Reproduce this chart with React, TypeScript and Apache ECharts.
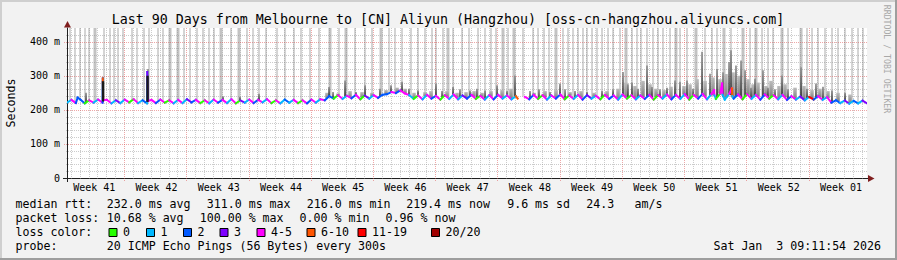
import React, { useEffect, useRef } from "react";
import * as echarts from "echarts";

// ---------------- data ----------------
const TITLE = "Last 90 Days from Melbourne to [CN] Aliyun (Hangzhou) [oss-cn-hangzhou.aliyuncs.com]";
const DAYS = 90;
const Y_MAX = 440;
const MEDIAN_STEP = 0.5; // days between median samples

const weekLabels = ["Week 41", "Week 42", "Week 43", "Week 44", "Week 45", "Week 46", "Week 47", "Week 48", "Week 49", "Week 50", "Week 51", "Week 52", "Week 01"];
const weekLabelDays = [3.07, 10.07, 17.07, 24.07, 31.07, 38.07, 45.07, 52.07, 59.07, 66.07, 73.07, 80.07, 87.07];
const weekStartDays = [6.43, 13.43, 20.43, 27.43, 34.43, 41.43, 48.43, 55.43, 62.43, 69.43, 76.43, 83.43];
const dayLineOffset = 0.43;
const yTickValues = [0, 100, 200, 300, 400];
const yMinorStep = 20;

// median rtt (ms), one sample every half day (trough, peak per day)
const medianMs: (number | null)[] = [
  221, 229, 220, 230, 219, 228, 221, 230, 221, 229, 219, 228, 220, 230, 222, 231, 220, 228, 219, 229,
  220, 230, 221, 228, 219, 229, 220, 231, 222, 229, 220, 228, 219, 230, 221, 229, 220, 231, 219, 228,
  221, 230, 220, 229, 222, 231, 220, 228, 219, 230, 221, 229, 220, 228, 219, 230, 221, 231, 228, 240,
  233, 243, 232, 241, 234, 244, 231, 242, 233, 243, 235, 244, 246, 252, 249, 257, 248, 243, 232, 242,
  231, 244, 233, 241, 230, 243, 232, 245, 231, 242, 233, 244, 232, 241, 230, 243, 231, 244, 233, 242,
  231, 240, null, 238, 231, 244, 232, 243, 230, 242, 233, 245, 231, 242, 232, 244, 230, 243, 233, 241,
  231, 244, 232, 242, 230, 245, 233, 243, 231, 242, 232, 244, 230, 243, 233, 245, 231, 244, 232, 246,
  230, 244, 233, 247, 231, 246, 232, 248, 230, 247, 233, 245, 231, 246, 232, 244, 230, 245, 233, 243,
  231, 244, 229, 240, 230, 239, 228, 238, 230, 240, 229, 237, 221, 228, 220, 227, 218, 226, 219, 227,
  219,
];
// loss colour class for each median sample (0..7)
const lossClassSeq =
  "14220414241314041214" +
  "24041413240414241403" +
  "14241404121404241422" +
  "04142403142224244104" +
  "14240414132404142414" +
  "15142404142404142314" +
  "04241404142404142414" +
  "04241404142404142404" +
  "14241316241422131213" +
  "1";
// extra median samples [day, ms, loss class]
const medianSpikes: [number, number, number][] = [
  [1.2, 236, 2], [4.02, 292, 5], [4.07, 229, 4], [9.03, 311, 3], [9.08, 226, 4],
  [50.7, 233, 5], [72.8, 258, 4], [72.85, 242, 1], [73.7, 277, 4], [73.75, 244, 1],
  [74.8, 263, 5], [74.85, 240, 1],
];

// dark smoke columns [day, top ms]
const smokeSpikes: [number, number][] = [
  [2.14, 250], [4.05, 296], [9.11, 320], [17.55, 240], [19.46, 238], [21.6, 247],
  [29.48, 267], [29.93, 252], [31.28, 286], [32.51, 252], [33.53, 272], [35.21, 262], [36.45, 272], [37.69, 282], [38.47, 262], [39.49, 257], [41.51, 277], [42.19, 255], [43.43, 267], [44.21, 260], [45.34, 257],
  [46.12, 262], [47.03, 257], [48.38, 272], [49.5, 255], [50.4, 301], [52.09, 255], [53.1, 260], [54.34, 252], [55.46, 277], [56.03, 260], [57.15, 255], [58.5, 252], [60.19, 255], [61.43, 260], [62.55, 311], [63.11, 275], [63.56, 280], [64.24, 262], [65.25, 330], [65.81, 267], [66.71, 260], [67.5, 265], [68.4, 286],
  [68.96, 282], [69.75, 286], [70.43, 262], [71.44, 370], [72.34, 306], [73.13, 320], [73.8, 310], [74.48, 340], [74.7, 375], [75.26, 330], [75.83, 345], [76.28, 316], [76.95, 265], [77.4, 291], [78.3, 316], [78.86, 265], [79.65, 260], [80.44, 301], [81.11, 260], [82.58, 325], [83.25, 262], [84.26, 277], [85.05, 268], [86.06, 257], [87.53, 250],
];
// near-black smoke cores over the two big early spikes [day, top ms]
const smokeCore: [number, number][] = [[4.05, 284], [9.06, 300]];
// mid-grey smoke columns [day, top ms]
const smokeMid: [number, number][] = [
  [29.25, 250], [30.49, 248], [31.84, 255], [33.19, 252], [34.31, 250], [35.89, 258], [37.13, 265], [38.03, 262], [39.04, 250], [40.28, 252], [40.95, 255], [42.75, 255], [43.88, 250], [44.89, 252], [45.79, 255],
  [46.69, 250], [47.7, 255], [48.94, 258], [49.95, 262], [52.54, 250], [53.78, 255], [55.01, 258], [56.59, 252], [57.83, 255], [59.29, 250], [60.75, 255], [61.99, 262], [62.89, 280], [63.9, 270], [64.8, 285], [65.59, 275], [66.26, 262], [67.16, 258], [67.95, 268], [69.41, 270],
  [70.09, 275], [70.88, 290], [71.78, 285], [72.68, 295], [73.46, 290], [74.14, 305], [74.93, 310], [75.6, 300], [76.61, 290], [77.18, 275], [77.74, 280], [78.64, 270], [79.2, 285], [80.1, 270], [80.78, 275], [81.9, 265], [82.91, 270], [83.81, 258], [84.71, 262], [85.61, 255], [86.74, 250], [88.09, 245],
];
// light smoke reaching the top of the graph (days)
const fullSmokeThin = [
  0.34, 0.9, 1.46, 2.03, 2.48, 4.16, 4.84, 5.29, 5.74, 6.3, 7.31, 7.88, 8.66, 9.23, 10.24, 10.8, 13.16, 13.84, 14.63, 15.3, 15.98, 16.54, 18.45, 20.25, 20.93, 21.6, 22.39,
  23.63, 24.53, 25.54, 26.33, 27.34, 28.35, 30.6, 32.4, 33.53, 34.31, 36.23, 36.9, 37.69, 38.7, 39.49, 40.28, 41.06, 41.51, 42.3, 43.43, 44.44, 45.23,
  46.24, 47.03, 47.7, 48.26, 49.61, 51.3, 52.43, 52.99, 53.66, 54.23, 55.8, 56.36, 56.93, 57.49, 58.05, 58.5, 59.06, 59.63, 60.19, 60.86, 61.43, 62.21, 63.56, 64.13, 64.58, 65.25, 65.93, 66.49, 67.05, 67.84,
  68.96, 69.75, 71.78, 72.56, 73.13, 74.7, 76.84, 78.19, 78.86, 79.43, 81.11, 83.25, 83.81, 84.49, 85.28, 86.06, 86.74, 87.53, 88.31, 88.99, 89.55,
];
const fullSmokeWide = [3.15, 11.59, 12.49, 17.33, 19.35, 29.59, 31.39, 35.33, 42.86, 49.05, 50.29, 55.01, 62.89, 68.51, 70.76, 73.91, 76.05, 77.51, 80.44, 82.58];

const lossColors = ["#26ff00", "#00b8ff", "#0059ff", "#7e00ff", "#ff00ff", "#ff5500", "#ff0000", "#a10000"];
const lossLabels = ["0", "1", "2", "3", "4-5", "6-10", "11-19", "20/20"];
const rttStats = ["232.0 ms avg", "311.0 ms max", "216.0 ms min", "219.4 ms now", "9.6 ms sd", "24.3", "am/s"];
const lossStats = ["10.68 % avg", "100.00 % max", "0.00 % min", "0.96 % now"];
const probeText = "20 ICMP Echo Pings (56 Bytes) every 300s";
const stampText = "Sat Jan  3 09:11:54 2026";

// ---------------- layout ----------------
const W = 897, H = 260;
const GRID = { left: 67, right: 30, top: 28, bottom: 82 };
const FONT = '"DejaVu Sans Mono", monospace';
const rttX = [106.8, 206.8, 306.8, 406.2, 507.2, 586.2, 634.6];
const lossX = [106.8, 199.8, 299.6, 385.6];
const boxX = [108.5, 146, 183, 219.5, 256.5, 306.5, 357.5, 431];
const rowY = [204.3, 218, 232.3, 246];

export default function App() {
  const ref = useRef<HTMLDivElement>(null);
  useEffect(() => {
    if (!ref.current) return;
    const chart = echarts.init(ref.current, undefined, { renderer: "svg", width: W, height: H });

    // median points
    const pts: [number, number | null, number][] = medianMs.map((v, i) => [i * MEDIAN_STEP, v, Number(lossClassSeq[i])]);
    medianSpikes.forEach((s) => pts.push([s[0], s[1], s[2]]));
    pts.sort((a, b) => a[0] - b[0]);
    const segs: number[][] = [];
    for (let i = 0; i < pts.length - 1; i++) {
      const p = pts[i], q = pts[i + 1];
      if (p[1] == null || q[1] == null) continue;
      segs.push([p[0], p[1], q[0], q[1], p[2]]);
    }
    const medianAt = (d: number) => {
      const f = d / MEDIAN_STEP;
      const lo = Math.max(0, Math.floor(f)), hi = Math.min(medianMs.length - 1, Math.ceil(f));
      const a = medianMs[lo] ?? medianMs[hi] ?? 230;
      const b = medianMs[hi] ?? a;
      return (a as number) + ((b as number) - (a as number)) * (f - lo);
    };

    const gridSegs: number[][] = [];
    for (let k = 0; k < DAYS; k++) {
      const d = dayLineOffset + k;
      const major = weekStartDays.some((w) => Math.abs(w - d) < 1e-6) ? 1 : 0;
      gridSegs.push([d, 0, d, Y_MAX, major, 0]);
    }
    for (let v = yMinorStep; v < Y_MAX; v += yMinorStep) {
      gridSegs.push([0, v, DAYS, v, v % 100 === 0 ? 1 : 0, 1]);
    }

    const darkGrad = new echarts.graphic.LinearGradient(0, 0, 0, 1, [
      { offset: 0, color: "#8c8c8c" },
      { offset: 1, color: "#2a2a2a" },
    ]);
    const midGrad = new echarts.graphic.LinearGradient(0, 0, 0, 1, [
      { offset: 0, color: "#bdbdbd" },
      { offset: 1, color: "#808080" },
    ]);

    const rectRender = (w: number, fill: any) => (_p: any, api: any) => {
      const t = api.coord([api.value(0), api.value(1)]);
      const b = api.coord([api.value(0), api.value(2)]);
      return { type: "rect", shape: { x: t[0] - w / 2, y: t[1], width: w, height: Math.max(0, b[1] - t[1]) }, style: { fill } };
    };

    const txt = (text: string, x: number, y: number, extra: any = {}) => ({
      type: "text",
      x, y,
      z: 50,
      ...extra,
      style: {
        text,
        fill: extra.fill || "#000",
        fontFamily: FONT,
        fontSize: extra.fontSize || 11.6,
        align: extra.align || "left",
        textAlign: extra.align || "left",
        verticalAlign: "middle",
        textVerticalAlign: "middle",
      },
    });

    const graphics: any[] = [
      { type: "rect", shape: { x: 0, y: 0, width: W, height: 2 }, style: { fill: "#cfcfcf" }, z: 1 },
      { type: "rect", shape: { x: 0, y: 0, width: 2, height: H }, style: { fill: "#cfcfcf" }, z: 1 },
      { type: "rect", shape: { x: 0, y: H - 2, width: W, height: 2 }, style: { fill: "#9e9e9e" }, z: 1 },
      { type: "rect", shape: { x: W - 2, y: 0, width: 2, height: H }, style: { fill: "#9e9e9e" }, z: 1 },
      { type: "line", shape: { x1: 67.5, y1: 178, x2: 67.5, y2: 182 }, style: { stroke: "#1f1f1f", lineWidth: 1 }, z: 40 },
      { type: "line", shape: { x1: 63, y1: 178.5, x2: 67, y2: 178.5 }, style: { stroke: "#1f1f1f", lineWidth: 1 }, z: 40 },
      { type: "line", shape: { x1: 866, y1: 178.5, x2: 869, y2: 178.5 }, style: { stroke: "#1f1f1f", lineWidth: 1 }, z: 40 },
      { type: "polygon", shape: { points: [[64, 27.5], [71, 27.5], [67.5, 21]] }, style: { fill: "#801f1f" }, z: 41 },
      { type: "polygon", shape: { points: [[868, 175], [868, 182], [874.5, 178.5]] }, style: { fill: "#801f1f" }, z: 41 },
      txt(TITLE, 448, 19, { align: "center", fontSize: 13.3 }),
      txt("Seconds", 10.5, 103, { align: "center", rotation: Math.PI / 2 }),
      txt("RRDTOOL / TOBI OETIKER", 887, 59, { align: "center", rotation: -Math.PI / 2, fontSize: 8.2, fill: "#a8a8a8" }),
      txt("median rtt:", 15.5, rowY[0]),
      txt("packet loss:", 15.5, rowY[1]),
      txt("loss color:", 15.5, rowY[2]),
      txt("probe:", 15.5, rowY[3]),
      txt(probeText, 106.8, rowY[3]),
      txt(stampText, 881, rowY[3], { align: "right" }),
    ];
    rttStats.forEach((s, i) => graphics.push(txt(s, rttX[i], rowY[0])));
    lossStats.forEach((s, i) => graphics.push(txt(s, lossX[i], rowY[1])));
    lossLabels.forEach((s, i) => {
      graphics.push({ type: "rect", shape: { x: boxX[i] + 0.5, y: 228.5, width: 8, height: 8 }, style: { fill: lossColors[i], stroke: "#000", lineWidth: 1 }, z: 50 });
      graphics.push(txt(s, boxX[i] + 14.6, rowY[2]));
    });

    chart.setOption({
      animation: false,
      backgroundColor: "#f2f2f2",
      textStyle: { fontFamily: FONT },
      grid: { ...GRID, show: true, backgroundColor: "#ffffff", borderWidth: 0 },
      xAxis: {
        type: "value", min: 0, max: DAYS,
        axisLine: { show: true, lineStyle: { color: "#1f1f1f", width: 1 } },
        axisTick: { show: false },
        splitLine: { show: false },
        axisLabel: {
          customValues: weekLabelDays,
          formatter: (v: number) => {
            const i = weekLabelDays.findIndex((d) => Math.abs(d - v) < 1e-6);
            return i >= 0 ? weekLabels[i] : "";
          },
          fontFamily: FONT, fontSize: 10, color: "#000", margin: 4, hideOverlap: false,
        },
      },
      yAxis: {
        type: "value", min: 0, max: Y_MAX,
        axisLine: { show: true, lineStyle: { color: "#1f1f1f", width: 1 } },
        axisTick: { show: false },
        splitLine: { show: false },
        axisLabel: {
          customValues: yTickValues,
          formatter: (v: number) => (v % 100 !== 0 || v > 400 ? "" : v === 0 ? "0" : `${v} m`),
          fontFamily: FONT, fontSize: 10, color: "#000", margin: 7,
        },
      },
      graphic: { elements: graphics },
      series: [
        {
          type: "custom", z: 1, clip: true, silent: true,
          encode: { x: 0, y: [1, 2] },
          data: fullSmokeThin.map((d) => [d, Y_MAX, medianAt(d) + 2]),
          renderItem: rectRender(2, "#d4d4d4"),
        },
        {
          type: "custom", z: 1, clip: true, silent: true,
          encode: { x: 0, y: [1, 2] },
          data: fullSmokeWide.map((d) => [d, Y_MAX, medianAt(d) + 2]),
          renderItem: rectRender(3, "#c3c3c3"),
        },
        {
          type: "custom", z: 2, clip: false, silent: true,
          encode: { x: [0, 2], y: [1, 3] },
          data: gridSegs,
          renderItem: (_p: any, api: any) => {
            const a = api.coord([api.value(0), api.value(1)]);
            const b = api.coord([api.value(2), api.value(3)]);
            const major = api.value(4) === 1;
            const horiz = api.value(5) === 1;
            let shape;
            if (horiz) {
              const y = Math.round(a[1]) + 0.5;
              shape = { x1: a[0] - (major ? 3 : 1), y1: y, x2: b[0], y2: y };
            } else {
              const x = Math.round(a[0]) + 0.5;
              shape = { x1: x, y1: a[1] + (major ? 3 : 1), x2: x, y2: b[1] };
            }
            return {
              type: "line", shape,
              style: { stroke: major ? "rgba(222,79,79,0.5)" : "rgba(143,143,143,0.45)", lineWidth: 1, lineDash: [1, 1] },
            };
          },
        },
        {
          type: "custom", z: 3, clip: true, silent: true,
          encode: { x: 0, y: [1, 2] },
          data: smokeMid.map((s) => [s[0], s[1], medianAt(s[0]) + 1]),
          renderItem: rectRender(3.5, midGrad),
        },
        {
          type: "custom", z: 4, clip: true, silent: true,
          encode: { x: 0, y: [1, 2] },
          data: smokeSpikes.map((s) => [s[0], s[1], medianAt(s[0]) + 1]),
          renderItem: rectRender(1.6, darkGrad),
        },
        {
          type: "custom", z: 5, clip: true, silent: true,
          encode: { x: [0, 2], y: [1, 3] },
          data: segs,
          renderItem: (_p: any, api: any) => {
            const a = api.coord([api.value(0), api.value(1)]);
            const b = api.coord([api.value(2), api.value(3)]);
            return {
              type: "line",
              shape: { x1: a[0], y1: a[1], x2: b[0], y2: b[1] },
              style: { stroke: lossColors[api.value(4)], lineWidth: 2, lineCap: "square" },
            };
          },
        },
        {
          type: "custom", z: 6, clip: true, silent: true,
          encode: { x: 0, y: [1, 2] },
          data: smokeCore.map((s) => [s[0], s[1], medianAt(s[0]) + 3]),
          renderItem: rectRender(2.4, "#1a1a1a"),
        },
      ],
    });
    return () => chart.dispose();
  }, []);
  return <div ref={ref} style={{ position: "fixed", left: 0, top: 0, width: W, height: H }} />;
}
